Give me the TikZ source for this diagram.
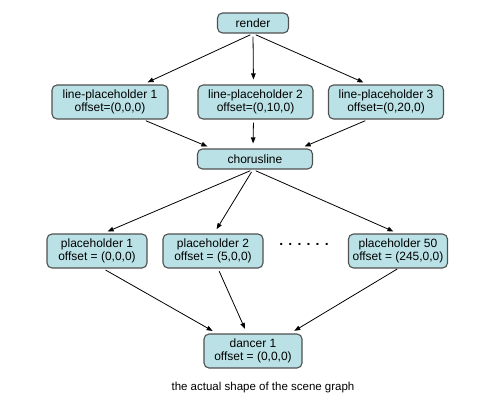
\documentclass[tikz,border=0pt]{standalone}
\usepackage{fontspec}
\setmainfont{Liberation Sans}
\usepackage{xcolor}
\usetikzlibrary{arrows.meta,positioning}

\definecolor{boxfill}{RGB}{186,226,230}
\definecolor{boxline}{RGB}{80,80,80}

\tikzset{
  sgnode/.style={draw=boxline, line width=1.1pt, fill=boxfill, rounded corners=5pt,
    align=center, inner sep=0pt, font=\fontsize{12}{12.7}\selectfont},
  link/.style={-{Triangle[length=6pt,width=4.5pt]}, line width=0.8pt,
    shorten <=3pt, shorten >=5pt}
}

\begin{document}
\begin{tikzpicture}[x=1pt, y=-1pt]
  \useasboundingbox (0,0) rectangle (500,405);

  % top level
  \node[sgnode, minimum width=71pt, minimum height=20pt] (render) at (253,23) {render};

  % line placeholders
  \node[sgnode, minimum width=116pt, minimum height=34pt] (lp1) at (110,102)
    {line-placeholder 1\\offset=(0,0,0)};
  \node[sgnode, minimum width=115pt, minimum height=34pt] (lp2) at (255.5,102)
    {line-placeholder 2\\offset=(0,10,0)};
  \node[sgnode, minimum width=115pt, minimum height=34pt] (lp3) at (386,102)
    {line-placeholder 3\\offset=(0,20,0)};

  \node[sgnode, minimum width=115pt, minimum height=20pt] (chorus) at (255,159) {chorusline};

  % placeholders
  \node[font=\fontsize{14}{14}\bfseries] (dots) at (304,244) {. . . . . .};
  \node[sgnode, minimum width=100pt, minimum height=34pt] (ph1) at (97,251)
    {placeholder 1\\offset = (0,0,0)};
  \node[sgnode, minimum width=100pt, minimum height=34pt] (ph2) at (213,251)
    {placeholder 2\\offset = (5,0,0)};
  \node[sgnode, minimum width=99pt, minimum height=34pt] (ph50) at (398,251)
    {placeholder 50\\offset = (245,0,0)};

  \node[sgnode, minimum width=98pt, minimum height=34pt] (dancer) at (253,351)
    {dancer 1\\offset = (0,0,0)};

  \node[font=\fontsize{11.5}{12}\selectfont] (caption) at (263,388)
    {the actual shape of the scene graph};

  % connectors
  \draw[link] (render.south) -- ([xshift=33pt]lp1.north);
  \draw[link] (render.south) -- ([xshift=-2pt]lp2.north);
  \draw[link] (render.south) -- ([xshift=-18pt]lp3.north);

  \draw[link] ([xshift=33pt]lp1.south) -- ([xshift=-43pt]chorus.north);
  \draw[link] ([xshift=-2pt]lp2.south) -- ([xshift=-2pt]chorus.north);
  \draw[link] ([xshift=-18pt]lp3.south) -- ([xshift=45pt]chorus.north);

  \draw[link] ([xshift=-2pt]chorus.south) -- ([xshift=6pt]ph1.north);
  \draw[link] ([xshift=-2pt]chorus.south) -- ([xshift=1pt]ph2.north);
  \draw[link] ([xshift=-2pt]chorus.south) -- (ph50.north);

  \draw[link] ([xshift=6pt]ph1.south) -- ([xshift=-36pt]dancer.north);
  \draw[link] ([xshift=5pt]ph2.south) -- ([xshift=-6pt]dancer.north);
  \draw[link, shorten <=1pt] (ph50.south) -- ([xshift=37pt]dancer.north);
\end{tikzpicture}
\end{document}
